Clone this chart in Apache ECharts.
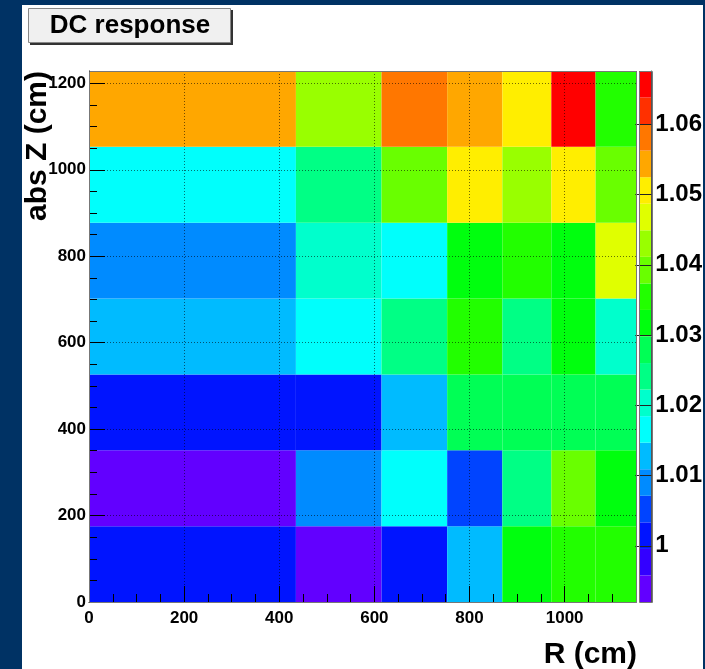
<!DOCTYPE html>
<html>
<head>
<meta charset="utf-8">
<script src="https://cdn.jsdelivr.net/npm/echarts@6/dist/echarts.min.js"></script>
<style>
  html, body { margin: 0; padding: 0; background: #003264; }
  #chart { width: 705px; height: 669px; }
</style>
</head>
<body>
<div id="chart"></div>
<script>
// bin edges (equal-area rings in R, equal slices in |Z|)
const rEdges = [0, 435, 615, 753, 869, 972, 1065, 1150]
const zEdges = [0, 175.5, 351, 526.5, 702, 877.5, 1053, 1228.5]

// DC response per bin, one row per Z slice, bottom to top
const row1 = [1.0012, 0.9922, 1.0018, 1.0125, 1.0320, 1.0352, 1.0357]
const row2 = [0.9941, 1.0088, 1.0163, 1.0050, 1.0238, 1.0395, 1.0314]
const row3 = [1.0016, 1.0013, 1.0130, 1.0277, 1.0281, 1.0275, 1.0283]
const row4 = [1.0126, 1.0168, 1.0244, 1.0351, 1.0239, 1.0316, 1.0204]
const row5 = [1.0093, 1.0201, 1.0165, 1.0320, 1.0356, 1.0318, 1.0470]
const row6 = [1.0162, 1.0245, 1.0390, 1.0507, 1.0428, 1.0503, 1.0388]
const row7 = [1.0545, 1.0432, 1.0583, 1.0541, 1.0509, 1.0674, 1.0352]
const rows = [row1, row2, row3, row4, row5, row6, row7]

// colour contours (20 levels) and palette colours
const levels = [0.99200, 0.99578, 0.99956, 1.00334, 1.00712, 1.01090, 1.01468,
  1.01846, 1.02224, 1.02602, 1.02980, 1.03358, 1.03736, 1.04114, 1.04492,
  1.04870, 1.05248, 1.05626, 1.06004, 1.06382, 1.06760]
const palette = ['#6200ff', '#3300ff', '#0014ff', '#0044ff', '#008bff', '#00bbff',
  '#00fffc', '#00ffcc', '#00ff85', '#00ff55', '#00ff0e', '#22ff00', '#69ff00',
  '#99ff00', '#e0ff00', '#ffee00', '#ffa700', '#ff7700', '#ff3000', '#ff0000']
const zTicks = [1, 1.01, 1.02, 1.03, 1.04, 1.05, 1.06]

const FONT = "'Liberation Sans', Arial, Helvetica, sans-serif"

// cells: [r0, r1, z0, z1, value]
const cells = []
rows.forEach((row, j) => {
  row.forEach((v, i) => {
    cells.push([rEdges[i], rEdges[i + 1], zEdges[j], zEdges[j + 1], v])
  })
})

// palette bar: one block per contour
const paletteBlocks = palette.map((c, i) => [0, 1, levels[i], levels[i + 1], (levels[i] + levels[i + 1]) / 2])

const pieces = palette.map((c, i) => {
  const p = { gte: levels[i], color: c }
  if (i < palette.length - 1) p.lt = levels[i + 1]
  else p.lte = levels[i + 1] + 0.001
  return p
})

function renderBox(params, api) {
  const p0 = api.coord([api.value(0), api.value(2)])
  const p1 = api.coord([api.value(1), api.value(3)])
  return {
    type: 'rect',
    shape: { x: p0[0], y: p1[1], width: p1[0] - p0[0], height: p0[1] - p1[1] },
    style: { fill: api.visual('color'), stroke: null }
  }
}

const chart = echarts.init(document.getElementById('chart'))

const plain = v => String(v)
const labelStyle = { color: '#000', fontFamily: FONT, fontWeight: 'bold', fontSize: 17, formatter: plain }
const dotted = { show: true, lineStyle: { color: '#000', opacity: 0.55, width: 1, type: [1, 2] } }

const option = {
  backgroundColor: '#003264',
  animation: false,
  grid: [
    { left: 89, top: 71, width: 547, height: 531, show: false },
    { left: 639, top: 71, width: 13, height: 531, show: false }
  ],
  xAxis: [
    {
      gridIndex: 0, type: 'value', min: 0, max: 1150, interval: 200, z: 5,
      axisLine: { show: true, onZero: false, lineStyle: { color: '#000', width: 1 } },
      axisTick: { show: true, inside: true, length: 16, lineStyle: { color: '#000' } },
      axisLabel: Object.assign({ margin: 8, showMaxLabel: false }, labelStyle),
      splitLine: dotted
    },
    {
      gridIndex: 0, type: 'value', min: 0, max: 1150, interval: 50, z: 5, position: 'bottom',
      axisLine: { show: false, onZero: false },
      axisTick: { show: true, inside: true, length: 8, lineStyle: { color: '#000' } },
      axisLabel: { show: false },
      splitLine: { show: false }
    },
    {
      gridIndex: 1, type: 'value', min: 0, max: 1, show: false
    }
  ],
  yAxis: [
    {
      gridIndex: 0, type: 'value', min: 0, max: 1228.5, interval: 200, z: 5,
      axisLine: { show: true, onZero: false, lineStyle: { color: '#000', width: 1 } },
      axisTick: { show: true, inside: true, length: 16, lineStyle: { color: '#000' } },
      axisLabel: Object.assign({ margin: 3, showMaxLabel: false }, labelStyle),
      splitLine: dotted
    },
    {
      gridIndex: 0, type: 'value', min: 0, max: 1228.5, interval: 50, z: 5, position: 'left',
      axisLine: { show: false, onZero: false },
      axisTick: { show: true, inside: true, length: 8, lineStyle: { color: '#000' } },
      axisLabel: { show: false },
      splitLine: { show: false }
    },
    {
      gridIndex: 1, type: 'value', min: levels[0], max: levels[levels.length - 1],
      position: 'right', z: 5,
      axisLine: { show: true, onZero: false, lineStyle: { color: '#555', width: 1 } },
      axisTick: { show: true, inside: true, length: 16, customValues: zTicks, lineStyle: { color: '#222' } },
      axisLabel: { show: true, margin: 4, customValues: zTicks, formatter: plain, color: '#000', fontFamily: FONT, fontWeight: 'bold', fontSize: 24 },
      splitLine: { show: false }
    }
  ],
  visualMap: {
    type: 'piecewise', show: false, dimension: 4, seriesIndex: [0, 1], pieces: pieces
  },
  series: [
    {
      type: 'custom', xAxisIndex: 0, yAxisIndex: 0,
      renderItem: renderBox, encode: { x: [0, 1], y: [2, 3] }, data: cells, clip: true
    },
    {
      type: 'custom', xAxisIndex: 2, yAxisIndex: 2,
      renderItem: renderBox, encode: { x: [0, 1], y: [2, 3] }, data: paletteBlocks
    }
  ],
  graphic: [
    { type: 'rect', z: -10, shape: { x: 22, y: 5, width: 681, height: 664 }, style: { fill: '#fff' } },
    // frame and palette border
    { type: 'rect', z: 20, shape: { x: 89.5, y: 71.5, width: 547, height: 531 }, style: { fill: null, stroke: '#777', lineWidth: 1 } },
    { type: 'rect', z: 20, shape: { x: 639.5, y: 71.5, width: 13, height: 531 }, style: { fill: null, stroke: '#777', lineWidth: 1 } },
    // title pave
    { type: 'rect', z: 20, shape: { x: 30, y: 10, width: 203, height: 35 }, style: { fill: '#333' } },
    { type: 'rect', z: 21, shape: { x: 28.5, y: 8.5, width: 202, height: 34 }, style: { fill: '#f0f0f0', stroke: '#888', lineWidth: 1 } },
    {
      type: 'text', z: 22, x: 130, y: 26,
      style: { text: 'DC response', fill: '#000', font: 'bold 26px ' + FONT, textAlign: 'center', textVerticalAlign: 'middle' }
    },
    {
      type: 'text', z: 22, x: 38, y: 146, rotation: Math.PI / 2,
      style: { text: 'abs Z (cm)', fill: '#000', font: 'bold 30px ' + FONT, textAlign: 'center', textVerticalAlign: 'middle' }
    },
    {
      type: 'text', z: 22, x: 637, y: 655,
      style: { text: 'R (cm)', fill: '#000', font: 'bold 30px ' + FONT, textAlign: 'right', textVerticalAlign: 'middle' }
    }
  ]
}

chart.setOption(option)
</script>
</body>
</html>
